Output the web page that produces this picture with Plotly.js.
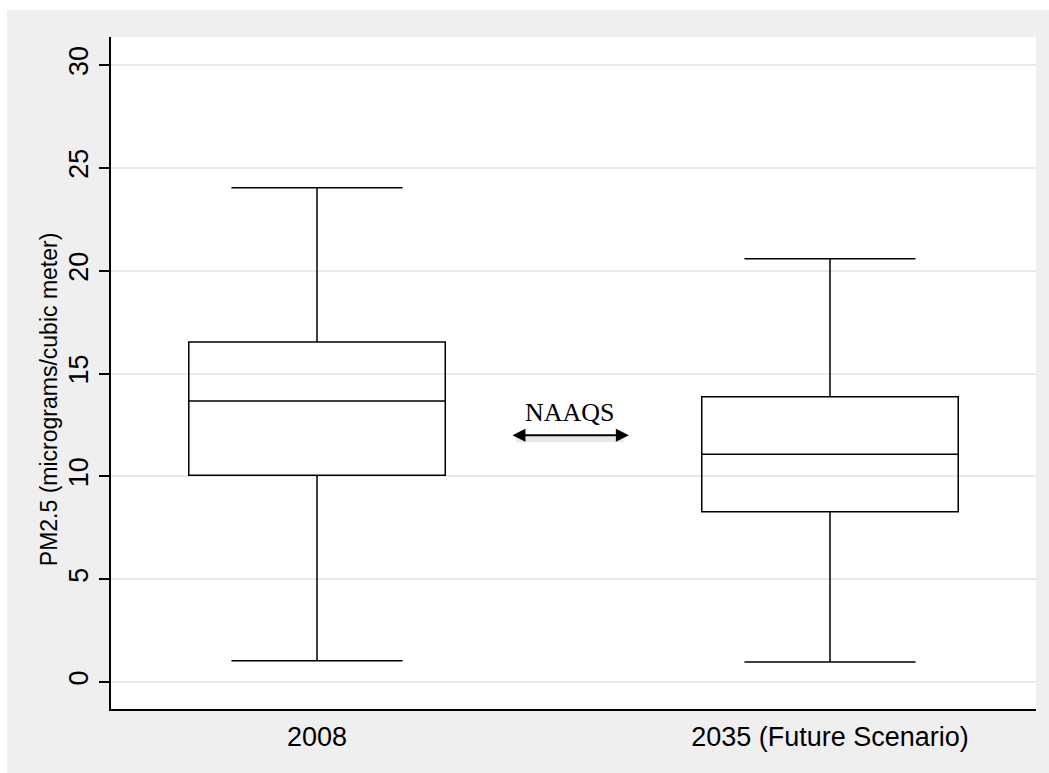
<!DOCTYPE html>
<html>
<head>
<meta charset="utf-8">
<script src="https://cdn.plot.ly/plotly-3.0.1.min.js"></script>
<style>
  html, body { margin: 0; padding: 0; background: #ffffff; }
  #chart { position: absolute; left: 7px; top: 10px; width: 1042px; height: 763px; }
</style>
</head>
<body>
<div id="chart"></div>
<script>
// Data
const categories = ["2008", "2035 (Future Scenario)"];
const lowerWhisker = [1.04, 0.98];
const q1Values = [10.06, 8.28];
const medianValues = [13.66, 11.07];
const q3Values = [16.53, 13.87];
const upperWhisker = [24.03, 20.58];
const yTickValues = [0, 5, 10, 15, 20, 25, 30];
const naaqsLevel = 12;
const naaqsLabel = "NAAQS";
const yTitle = "PM2.5 (micrograms/cubic meter)";

const trace = {
  type: "box",
  x: categories,
  q1: q1Values,
  median: medianValues,
  q3: q3Values,
  lowerfence: lowerWhisker,
  upperfence: upperWhisker,
  width: 0.5,
  whiskerwidth: 0.667,
  line: { color: "#000000", width: 1.5 },
  fillcolor: "rgba(0,0,0,0)",
  boxpoints: false,
  showlegend: false,
  hoverinfo: "skip"
};

const arrowLeft = 0.378, arrowRight = 0.608;
const sansFont = "Liberation Sans, Arial, sans-serif";

const layout = {
  paper_bgcolor: "#efefef",
  plot_bgcolor: "#ffffff",
  margin: { l: 104, r: 13, t: 27, b: 64 },
  showlegend: false,
  font: { family: sansFont, color: "#000000" },
  xaxis: {
    type: "category",
    range: [-0.4016, 1.4016],
    showline: true,
    linecolor: "#000000",
    linewidth: 1.5,
    showgrid: false,
    zeroline: false,
    ticks: "",
    ticklabelstandoff: 3,
    tickfont: { size: 27, family: sansFont, color: "#000000" }
  },
  yaxis: {
    range: [-1.31, 31.36],
    tickvals: yTickValues,
    ticktext: yTickValues.map(String),
    tickangle: -90,
    showline: true,
    linecolor: "#000000",
    linewidth: 1.5,
    ticks: "outside",
    ticklen: 10,
    tickwidth: 1.5,
    tickcolor: "#000000",
    showgrid: true,
    gridcolor: "#e8e8e8",
    gridwidth: 2,
    zeroline: false,
    tickfont: { size: 27, family: sansFont, color: "#000000" }
  },
  shapes: [
    {
      type: "line", xref: "x", yref: "y",
      x0: arrowLeft + 0.01, x1: arrowRight - 0.01,
      ysizemode: "pixel", yanchor: naaqsLevel, y0: -4, y1: -4,
      line: { color: "rgba(0,0,0,0.09)", width: 6 },
      layer: "below"
    }
  ],
  annotations: [
    {
      x: arrowRight, y: naaqsLevel, ax: arrowLeft, ay: naaqsLevel,
      xref: "x", yref: "y", axref: "x", ayref: "y",
      text: "", showarrow: true, arrowside: "end+start",
      arrowhead: 2, arrowsize: 1.3, arrowwidth: 2,
      arrowcolor: "#000000", standoff: 0, startstandoff: 0
    },
    {
      x: (arrowLeft + arrowRight) / 2, y: naaqsLevel,
      xref: "x", yref: "y",
      text: naaqsLabel, showarrow: false,
      yanchor: "middle", yshift: 23,
      font: { family: "Liberation Serif, Times New Roman, serif", size: 26, color: "#000000" }
    },
    {
      x: 0, y: 0.461, xref: "paper", yref: "paper",
      xanchor: "center", yanchor: "middle", xshift: -62,
      text: yTitle, textangle: -90, showarrow: false,
      font: { family: sansFont, size: 23, color: "#000000" }
    }
  ]
};

Plotly.newPlot("chart", [trace], layout, { displayModeBar: false, responsive: false });
</script>
</body>
</html>
